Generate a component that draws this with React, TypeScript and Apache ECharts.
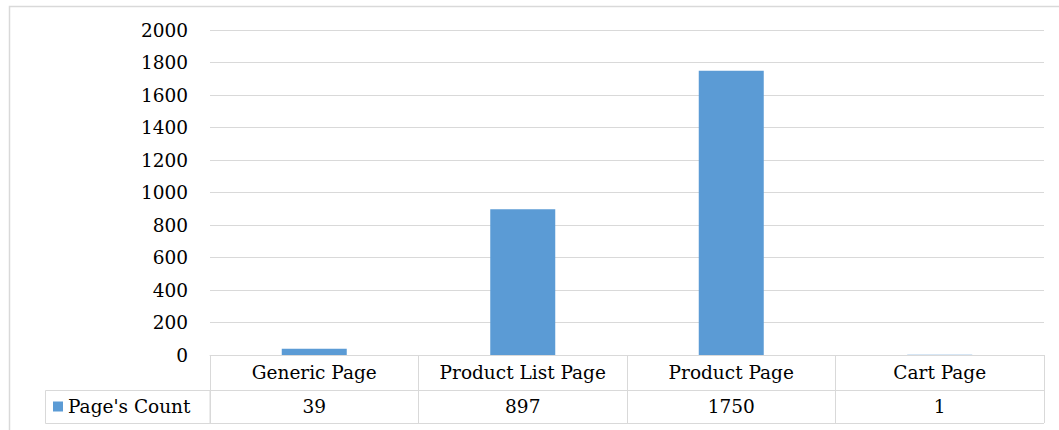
import React, { useEffect, useRef } from "react";
import * as echarts from "echarts";

const categories = ["Generic Page", "Product List Page", "Product Page", "Cart Page"];
const seriesName = "Page's Count";
const counts = [39, 897, 1750, 1];
const yMin = 0;
const yMax = 2000;
const yStep = 200;

const FONT = "DejaVu Serif";
const FS = 18.5;
const LINE = "#d9d9d9";
const BAR = "#5b9bd5";

export default function App() {
  const ref = useRef<HTMLDivElement>(null);
  useEffect(() => {
    if (!ref.current) return;
    const chart = echarts.init(ref.current, undefined, { renderer: "svg" });
    const gridLeft = 210;
    const gridRight = 1044;
    const gridTop = 30;
    const gridBottomY = 355;
    const rowH = 35;
    const row2H = 33;
    chart.setOption({
      animation: false,
      backgroundColor: "#ffffff",
      textStyle: { fontFamily: FONT },
      grid: {
        left: gridLeft,
        right: 1059 - gridRight,
        top: gridTop,
        bottom: 430 - gridBottomY,
        containLabel: false,
      },
      legend: {
        data: [seriesName],
        left: 53,
        top: 397,
        padding: 0,
        itemWidth: 10,
        itemHeight: 10,
        itemGap: 6,
        icon: "rect",
        textStyle: { fontFamily: FONT, fontSize: FS, color: "#000" },
      },
      xAxis: [
        {
          type: "category",
          data: categories,
          position: "bottom",
          boundaryGap: true,
          axisLine: { show: true, lineStyle: { color: LINE, width: 1 } },
          axisTick: { show: true, length: rowH, interval: 0, lineStyle: { color: LINE } },
          axisLabel: { interval: 0, margin: 8, fontFamily: FONT, fontSize: FS, color: "#000" },
          splitLine: { show: false },
        },
        {
          type: "category",
          data: counts.map((v) => String(v)),
          position: "bottom",
          offset: rowH,
          boundaryGap: true,
          axisLine: { show: true, lineStyle: { color: LINE, width: 1 } },
          axisTick: { show: true, length: row2H, interval: 0, lineStyle: { color: LINE } },
          axisLabel: { interval: 0, margin: 7, fontFamily: FONT, fontSize: FS, color: "#000" },
          splitLine: { show: false },
        },
      ],
      yAxis: {
        type: "value",
        min: yMin,
        max: yMax,
        interval: yStep,
        axisLine: { show: false },
        axisTick: { show: false },
        axisLabel: {
          margin: 22,
          fontFamily: FONT,
          fontSize: FS,
          color: "#000",
          formatter: (v: number) => String(v),
        },
        splitLine: { show: true, lineStyle: { color: LINE, width: 1 } },
      },
      series: [
        {
          name: seriesName,
          type: "bar",
          xAxisIndex: 0,
          data: counts,
          barWidth: 65,
          itemStyle: { color: BAR },
        },
      ],
      graphic: [
        {
          type: "rect",
          shape: { x: 9.5, y: 6.5, width: 1070, height: 440 },
          style: { fill: "none", stroke: LINE, lineWidth: 1.5 },
          silent: true,
          z: -1,
        },
        {
          type: "rect",
          shape: { x: 45.5, y: gridBottomY + rowH + 0.5, width: gridLeft - 45.5, height: row2H },
          style: { fill: "none", stroke: LINE, lineWidth: 1 },
          silent: true,
        },
        {
          type: "line",
          shape: { x1: gridLeft, y1: gridBottomY + rowH + row2H + 0.5, x2: gridRight, y2: gridBottomY + rowH + row2H + 0.5 },
          style: { stroke: LINE, lineWidth: 1 },
          silent: true,
        },
      ],
    });
    return () => chart.dispose();
  }, []);
  return (
    <div
      ref={ref}
      style={{ position: "fixed", left: 0, top: 0, width: 1059, height: 430, background: "#fff" }}
    />
  );
}
